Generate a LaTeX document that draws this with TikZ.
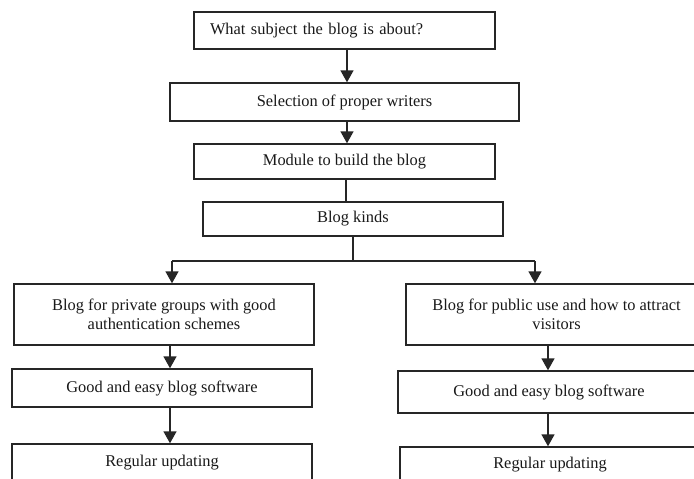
\documentclass[tikz,border=0pt]{standalone}
\usepackage{fontspec}
\setmainfont{Liberation Serif}
\usetikzlibrary{arrows.meta}
\begin{document}
\begin{tikzpicture}[x=1pt,y=-1pt,
  box/.style={draw=black!85, line width=1.4pt, rectangle, inner sep=0pt,
    font=\fontsize{16.4}{19.5}\selectfont, text=black!90, align=center},
  arr/.style={draw=black!85, line width=1.5pt, -{Triangle[length=12pt,width=13pt]}},
  ln/.style={draw=black!85, line width=1.5pt}]
\useasboundingbox (0,0) rectangle (694,479);
\fill[white] (0,0) rectangle (694,479);
\begin{scope}
\clip (0,0) rectangle (694,479);
\node[box, minimum width=301pt, minimum height=37pt, text width=269pt, align=left] (b1) at (344.5,30.5) {What subject the blog is about?};
\node[box, minimum width=349pt, minimum height=38pt] (b2) at (344.5,102) {Selection of proper writers};
\node[box, minimum width=301pt, minimum height=35pt] (b3) at (344.5,161.5) {Module to build the blog};
\node[box, minimum width=300pt, minimum height=34pt] (b4) at (353,219) {Blog kinds};
\node[box, minimum width=300pt, minimum height=61pt] (b5l) at (164,314.5) {Blog for private groups with good\\authentication schemes};
\node[box, minimum width=300pt, minimum height=38pt] (b6l) at (162,388) {Good and easy blog software};
\node[box, minimum width=300pt, minimum height=38pt] (b7l) at (162,463) {Regular updating};
\node[box, minimum width=301pt, minimum height=61pt] (b5r) at (556.5,314.5) {Blog for public use and how to attract\\visitors};
\node[box, minimum width=302pt, minimum height=42pt] (b6r) at (549,392) {Good and easy blog software};
\node[box, minimum width=300pt, minimum height=36pt] (b7r) at (550,465) {Regular updating};

\coordinate (aM) at (347,0);
\coordinate (aN) at (346,0);
\coordinate (aL) at (170,0);
\coordinate (aR) at (548,0);
\coordinate (j) at (353,261);
\coordinate (cL) at (172,261);
\coordinate (cR) at (535,261);

\draw[arr] (b1.south -| aM) -- (b2.north -| aM);
\draw[arr] (b2.south -| aM) -- (b3.north -| aM);
\draw[ln] (b3.south -| aN) -- (b4.north -| aN);
\draw[ln] (b4.south -| j) -- (j);
\draw[ln] (cL) -- (cR);
\draw[arr] (cL) -- (cL |- b5l.north);
\draw[arr] (cR) -- (cR |- b5r.north);
\draw[arr] (b5l.south -| aL) -- (b6l.north -| aL);
\draw[arr] (b6l.south -| aL) -- (b7l.north -| aL);
\draw[arr] (b5r.south -| aR) -- (b6r.north -| aR);
\draw[arr] (b6r.south -| aR) -- (b7r.north -| aR);
\end{scope}
\end{tikzpicture}
\end{document}
